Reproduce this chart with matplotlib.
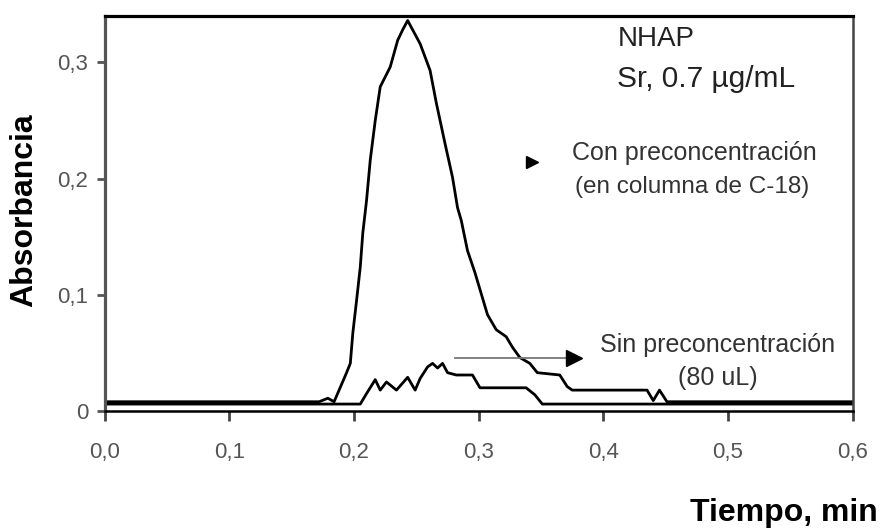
import matplotlib
matplotlib.use("Agg")
import matplotlib.pyplot as plt

# Con preconcentración (columna C-18)
t_con = [0.0, 0.172, 0.179, 0.184, 0.194, 0.197, 0.199, 0.202, 0.205, 0.207,
         0.210, 0.213, 0.217, 0.221, 0.229, 0.235, 0.239, 0.243, 0.253, 0.261,
         0.266, 0.273, 0.279, 0.283, 0.286, 0.291, 0.297, 0.302, 0.307, 0.314,
         0.322, 0.327, 0.333, 0.341, 0.347, 0.365, 0.371, 0.375, 0.435, 0.440,
         0.445, 0.451, 0.6]
a_con = [0.008, 0.008, 0.011, 0.008, 0.033, 0.041, 0.067, 0.095, 0.124, 0.153,
         0.181, 0.216, 0.250, 0.279, 0.296, 0.319, 0.328, 0.336, 0.316, 0.293,
         0.265, 0.230, 0.201, 0.175, 0.164, 0.138, 0.119, 0.101, 0.083, 0.070,
         0.064, 0.055, 0.046, 0.041, 0.033, 0.031, 0.021, 0.018, 0.018, 0.009,
         0.018, 0.008, 0.008]

# Sin preconcentración (80 uL)
t_sin = [0.0, 0.205, 0.210, 0.217, 0.221, 0.226, 0.234, 0.243, 0.249, 0.253,
         0.259, 0.263, 0.267, 0.271, 0.275, 0.282, 0.295, 0.301, 0.338, 0.345,
         0.351, 0.6]
a_sin = [0.006, 0.006, 0.015, 0.027, 0.018, 0.025, 0.018, 0.029, 0.018, 0.028,
         0.038, 0.041, 0.037, 0.041, 0.033, 0.031, 0.031, 0.020, 0.020, 0.014,
         0.006, 0.006]

x_ticks = [0.0, 0.1, 0.2, 0.3, 0.4, 0.5, 0.6]
x_labels = ["0,0", "0,1", "0,2", "0,3", "0,4", "0,5", "0,6"]
y_ticks = [0.0, 0.1, 0.2, 0.3]
y_labels = ["0", "0,1", "0,2", "0,3"]

plt.rcParams["font.family"] = ["Liberation Sans", "DejaVu Sans"]

fig = plt.figure(figsize=(8.8, 5.29), dpi=100)
ax = fig.add_axes([0.119, 0.223, 0.850, 0.747])

ax.plot(t_sin, a_sin, color="black", linewidth=2.0)
ax.plot(t_con, a_con, color="black", linewidth=2.0)

ax.set_xlim(0, 0.6)
ax.set_ylim(0, 0.34)
ax.set_xticks(x_ticks)
ax.set_xticklabels(x_labels)
ax.set_yticks(y_ticks)
ax.set_yticklabels(y_labels)
ax.tick_params(axis="x", length=7, width=2, color="#444444", pad=15,
               labelsize=16, labelcolor="#555555")
ax.tick_params(axis="y", length=6, width=2, color="#555555", pad=6,
               labelsize=16, labelcolor="#555555")

ax.spines["top"].set_linewidth(2.3)
ax.spines["top"].set_color("black")
ax.spines["left"].set_linewidth(2.3)
ax.spines["left"].set_color("#555555")
ax.spines["right"].set_linewidth(1.8)
ax.spines["right"].set_color("#444444")
ax.spines["bottom"].set_linewidth(1.8)
ax.spines["bottom"].set_color("black")

# annotations
ax.text(0.4115, 0.320, "NHAP", fontsize=20, color="#222222", va="center")
ax.text(0.411, 0.286, "Sr, 0.7 µg/mL", fontsize=21.5, color="#222222",
        va="center")

ax.plot([0.3425], [0.214], marker=">", markersize=9, color="black")
ax.text(0.3746, 0.222, "Con preconcentración", fontsize=18, color="#333333",
        va="center")
ax.text(0.377, 0.193, "(en columna de C-18)", fontsize=17.5, color="#333333",
        va="center")

ax.plot([0.2807, 0.372], [0.0456, 0.0456], color="#777777", linewidth=1.3)
ax.plot([0.3765], [0.0456], marker=">", markersize=11, color="black")
ax.text(0.397, 0.057, "Sin preconcentración", fontsize=18, color="#333333",
        va="center")
ax.text(0.4917, 0.028, "(80 uL)", fontsize=18, color="#333333",
        va="center", ha="center")

fig.text(0.998, 0.030, "Tiempo, min", fontsize=23, fontweight="bold",
         ha="right", va="center")
fig.text(0.028, 0.603, "Absorbancia", fontsize=23, fontweight="bold",
         rotation=90, ha="center", va="center")

fig.savefig("out.png", dpi=100)
